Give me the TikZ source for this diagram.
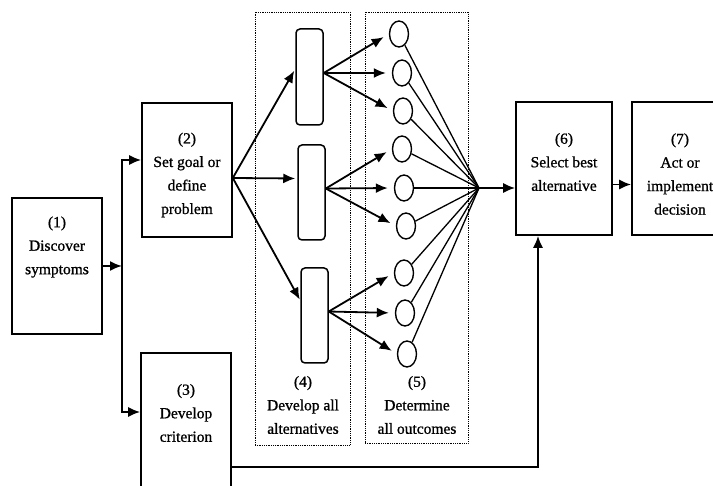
\documentclass[tikz,border=0pt]{standalone}
\usepackage{fontspec}
\setmainfont{Liberation Serif}
\newfontfamily\lblfont{Liberation Serif}[FakeBold=0.9]
\usetikzlibrary{arrows.meta,shapes.geometric,calc}
\begin{document}
\begin{tikzpicture}[x=1pt,y=-1pt,
 box/.style={draw,line width=1.6pt,inner sep=0pt},
 alt/.style={draw,rounded corners=4pt,line width=1.5pt,minimum width=27pt,minimum height=96pt,inner sep=0pt},
 outc/.style={draw,ellipse,line width=1.4pt,minimum width=19pt,minimum height=26pt,inner sep=0pt},
 frame/.style={draw,densely dotted,line width=0.8pt,inner sep=0pt},
 lbl/.style={align=center,font=\lblfont\fontsize{15.5}{23.5}\selectfont,inner sep=0pt},
 arr/.style={line width=1.8pt,-{Latex[length=12pt,width=10pt]}},
 fan/.style={line width=1.3pt}]
\fill[white] (0,0) rectangle (713,486);
\useasboundingbox (0,0) rectangle (713,486);

% boxes
\node[box,minimum width=90pt,minimum height=136pt] (b1) at (57,266) {};
\node[box,minimum width=90pt,minimum height=134pt] (b2) at (187,170) {};
\node[box,minimum width=90pt,minimum height=147pt] (b3) at (186,426.5) {};
\node[box,minimum width=96pt,minimum height=133pt] (b6) at (564,168.5) {};
\node[box,minimum width=96pt,minimum height=133pt] (b7) at (680,168.5) {};

% dotted frames
\node[frame,minimum width=95pt,minimum height=433pt] (d4) at (302.5,228.5) {};
\node[frame,minimum width=103pt,minimum height=431pt] (d5) at (416.5,227.5) {};

% alternatives
\node[alt] (a1) at (309.5,77) {};
\node[alt,minimum height=95pt] (a2) at (311.5,192.5) {};
\node[alt,minimum height=95pt] (a3) at (314.5,315.5) {};

% outcomes
\node[outc] (c1) at (399,34) {};
\node[outc] (c2) at (402,73) {};
\node[outc] (c3) at (403,111) {};
\node[outc] (c4) at (402,149) {};
\node[outc] (c5) at (404,188) {};
\node[outc] (c6) at (406,226) {};
\node[outc] (c7) at (404,273) {};
\node[outc] (c8) at (405,313) {};
\node[outc] (c9) at (407,354) {};
\coordinate (cv) at (479,188);

% labels
\node[lbl] (t1) at (57,247) {(1)\\Discover\\symptoms};
\node[lbl] (t2) at (187,175) {(2)\\Set goal or\\define\\problem};
\node[lbl] (t3) at (186,413) {(3)\\Develop\\criterion};
\node[lbl] (t4) at (303,405) {(4)\\Develop all\\alternatives};
\node[lbl] (t5) at (417,405) {(5)\\Determine\\all outcomes};
\node[lbl] (t6) at (564,162) {(6)\\Select best\\alternative};
\node[lbl] (t7) at (680,174) {(7)\\Act or\\implement\\decision};

% connectors
\coordinate (j) at (122,266);
\draw[arr] (b1.east) -- (j);
\draw[arr] (j) |- ([yshift=10pt]b2.west);
\draw[arr] (j) |- ([yshift=14.5pt]b3.west);

\draw[arr,shorten >=2pt] ([yshift=-8pt]b2.east) -- ([yshift=8pt]a1.west);
\draw[arr,shorten >=2pt] ([yshift=-8pt]b2.east) -- ([yshift=14pt]a2.west);
\draw[arr,shorten >=1pt] ([yshift=-8pt]b2.east) -- ([yshift=15pt]a3.west);

\foreach \a/\c in {a1/c1,a1/c2,a1/c3,a2/c4,a2/c5,a2/c6,a3/c7,a3/c8,a3/c9}{
  \draw[arr,shorten >=6pt] ([yshift=4pt]\a.east) -- (\c.west);
}
\foreach \c in {c1,c2,c3,c4,c5,c6,c7,c8,c9}{
  \draw[fan] (\c) -- (cv);
}
\draw[arr] (cv) -- (cv -| b6.west);
\draw[arr] ([yshift=-16pt]b6.east) -- ([yshift=-16pt]b7.west);
\draw[arr] ([yshift=-40.5pt]b3.east) -| ([xshift=-26pt]b6.south);
\end{tikzpicture}
\end{document}
